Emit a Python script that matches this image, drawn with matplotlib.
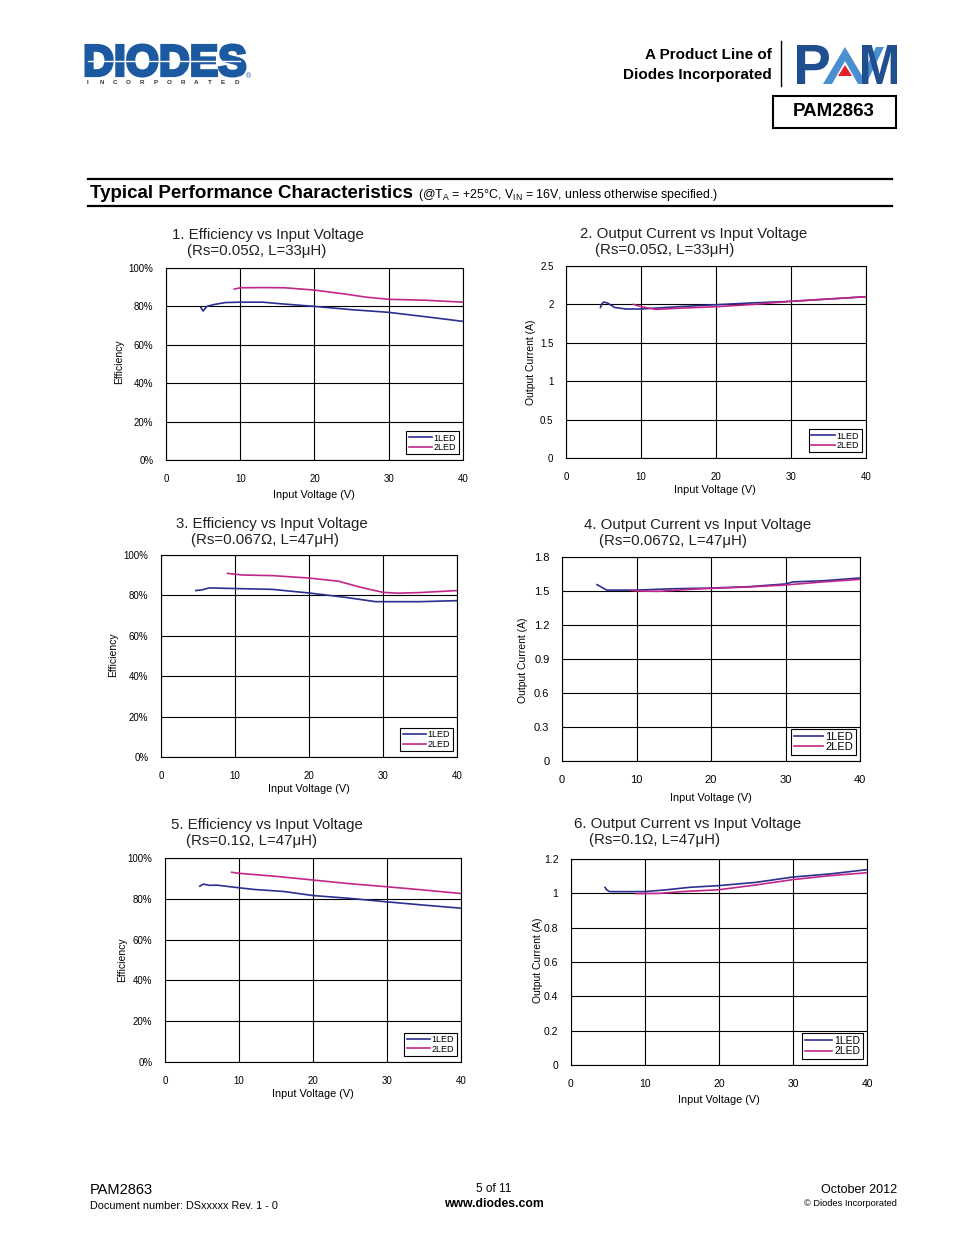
import numpy as np
import matplotlib.pyplot as plt
from matplotlib.textpath import TextPath
from matplotlib.patches import PathPatch, Rectangle, Polygon
from matplotlib.font_manager import FontProperties
from matplotlib.transforms import Affine2D

plt.rcParams['font.family'] = ['Liberation Sans', 'DejaVu Sans']

W, H = 954, 1235
BLUE = '#2b2f8f'
MAG = '#c2268a'

# 1. efficiency, Rs=0.05
v1_1 = [4.7, 5.0, 5.5, 6.5, 8, 10, 13, 16, 20, 25, 30, 35, 40]
e1_1 = [79.4, 77.6, 80.0, 81.0, 82.0, 82.2, 82.2, 81.2, 80.0, 78.3, 76.9, 74.6, 72.2]
v1_2 = [9.2, 10, 13, 16, 20, 24, 27, 30, 35, 40]
e1_2 = [89.0, 89.7, 89.8, 89.7, 88.5, 86.5, 84.8, 83.7, 83.2, 82.2]

# 2. output current, Rs=0.05
v2_1 = [4.6, 4.8, 5.0, 5.5, 6.5, 8, 10, 15, 20, 25, 30, 35, 40]
i2_1 = [1.96, 2.01, 2.03, 2.02, 1.96, 1.94, 1.94, 1.97, 1.996, 2.02, 2.04, 2.07, 2.10]
v2_2 = [9, 10, 12, 15, 20, 25, 30, 35, 40]
i2_2 = [2.0, 1.97, 1.935, 1.95, 1.97, 2.0, 2.04, 2.07, 2.10]

# 3. efficiency, Rs=0.067
v3_1 = [4.7, 5.5, 6.5, 10, 15, 20, 25, 29, 35, 40]
e3_1 = [82.4, 82.7, 83.7, 83.4, 83.0, 81.2, 79.0, 76.9, 76.9, 77.4]
v3_2 = [9, 11, 15, 20, 24, 27, 30, 32, 35, 40]
e3_2 = [90.9, 90.1, 89.8, 88.6, 87.0, 84.0, 81.5, 81.1, 81.4, 82.4]

# 4. output current, Rs=0.067
v4_1 = [4.7, 6, 10, 15, 20, 25, 30, 31, 35, 40]
i4_1 = [1.556, 1.508, 1.508, 1.52, 1.526, 1.538, 1.562, 1.58, 1.59, 1.615]
v4_2 = [9.2, 10, 13, 17, 20, 25, 30, 35, 40]
i4_2 = [1.508, 1.50, 1.497, 1.514, 1.523, 1.535, 1.553, 1.58, 1.603]

# 5. efficiency, Rs=0.1
v5_1 = [4.7, 5.2, 6, 7, 10, 12, 16, 20, 25, 30, 35, 40]
e5_1 = [86.2, 87.2, 86.6, 86.7, 85.4, 84.6, 83.6, 81.6, 80.2, 78.5, 76.9, 75.4]
v5_2 = [9, 10, 15, 20, 25, 30, 35, 40]
e5_2 = [93.0, 92.5, 91.0, 89.2, 87.4, 85.9, 84.3, 82.6]

# 6. output current, Rs=0.1
v6_1 = [4.6, 4.8, 5.2, 10, 13, 16, 20, 25, 30, 35, 40]
i6_1 = [1.035, 1.021, 1.01, 1.01, 1.021, 1.035, 1.045, 1.064, 1.095, 1.113, 1.138]
v6_2 = [8.8, 12, 15, 20, 25, 30, 35, 40]
i6_2 = [0.998, 1.0, 1.01, 1.021, 1.049, 1.08, 1.103, 1.12]

eff_ticks = [0, 20, 40, 60, 80, 100]
eff_labels = ['0%', '20%', '40%', '60%', '80%', '100%']
x_ticks = [0, 10, 20, 30, 40]

fig = plt.figure(figsize=(W / 100, H / 100), dpi=100)
bg = fig.add_axes([0, 0, 1, 1])
bg.set_xlim(0, W)
bg.set_ylim(H, 0)
bg.axis('off')


def txt(x, y, s, **kw):
    bg.text(x, y, s, **kw)


def path_in_box(s, x0, x1, y0, y1, color, weight='bold', stroke=0):
    tp = TextPath((0, 0), s, size=100, prop=FontProperties(family='Liberation Sans', weight=weight))
    ext = tp.get_extents()
    sx = (x1 - x0) / ext.width
    sy = (y1 - y0) / ext.height
    tr = Affine2D().translate(-ext.x0, -ext.y0).scale(sx, -sy).translate(x0, y1)
    bg.add_patch(PathPatch(tr.transform_path(tp), fc=color, ec=color if stroke else 'none', lw=stroke))


# header: DIODES logo
path_in_box('DIODES', 86, 245, 45, 76, '#1b5aa0', stroke=2.2)
bg.plot([88, 240], [61, 61], color='white', lw=1.0)
for k, ch in enumerate('INCORPORATED'):
    txt(88 + k * 13.5, 83, ch, fontsize=4.5, fontweight='bold', color='#333333', ha='center', va='center')
txt(249, 77, '®', fontsize=5, color='#1b5aa0', ha='center', va='center')

# PAM logo
path_in_box('P', 797, 829, 45, 84, '#1f4f8f')
bg.add_patch(Polygon([[823, 84], [845, 47], [867, 84], [858, 84], [845, 61], [832, 84]], fc='#4a8fd0', ec='none'))
bg.add_patch(Polygon([[838, 76], [845, 65], [852, 76]], fc='#e0202a', ec='none'))
bg.add_patch(Polygon([[858, 84], [876, 47], [884, 47], [866, 84]], fc='#4a8fd0', ec='none'))
path_in_box('M', 862, 897, 45, 84, '#1f4f8f')

txt(772, 55, 'A Product Line of', fontsize=11, fontweight='bold', ha='right', va='center')
txt(772, 75, 'Diodes Incorporated', fontsize=11, fontweight='bold', ha='right', va='center')
bg.plot([781, 781], [41, 86], color='black', lw=1)
bg.add_patch(Rectangle((773, 96), 123, 32, fill=False, ec='black', lw=1.5))
txt(834, 112, 'PAM2863', fontsize=13.5, fontweight='bold', ha='center', va='center')

# section heading
bg.plot([88, 892], [179, 179], color='black', lw=1.6)
bg.plot([88, 892], [206, 206], color='black', lw=1.6)
txt(90, 193, 'Typical Performance Characteristics', fontsize=13.5, fontweight='bold', va='center')
txt(418, 195, '(@T$_\\mathregular{A}$ = +25°C, V$_\\mathregular{IN}$ = 16V, unless otherwise specified.)',
    fontsize=8.9, va='center')

# footer
txt(90, 1190, 'PAM2863', fontsize=10.5, va='center')
txt(90, 1206, 'Document number: DSxxxxx Rev. 1 - 0', fontsize=7.8, va='center')
txt(494, 1189, '5 of 11', fontsize=8.5, ha='center', va='center')
txt(494, 1204, 'www.diodes.com', fontsize=8.8, fontweight='bold', ha='center', va='center')
txt(897, 1190, 'October 2012', fontsize=9, ha='right', va='center')
txt(897, 1204, '© Diodes Incorporated', fontsize=6.7, ha='right', va='center')


def panel(box, x1, y1, x2, y2, ylim, yticks, ylabels, ylabel, t1, t2, tpos, ylpos, xlpos,
          tick_fs=7, leg_fs=6.5):
    l, r, t, b = box
    ax = fig.add_axes([l / W, 1 - b / H, (r - l) / W, (b - t) / H])
    ax.plot(x1, y1, color=BLUE, lw=1.2, label='1LED', zorder=3)
    ax.plot(x2, y2, color=MAG, lw=1.2, label='2LED', zorder=3)
    ax.set_xlim(0, 40)
    ax.set_ylim(*ylim)
    ax.set_xticks(x_ticks)
    ax.set_yticks(yticks)
    ax.set_yticklabels(ylabels)
    ax.grid(True, color='black', lw=0.8)
    ax.tick_params(length=0, labelsize=tick_fs)
    ax.tick_params(axis='x', pad=10)
    ax.tick_params(axis='y', pad=9)
    for sp in ax.spines.values():
        sp.set_linewidth(0.8)
    leg = ax.legend(loc='lower right', bbox_to_anchor=(0.985, 0.03), fontsize=leg_fs,
                    frameon=True, fancybox=False, edgecolor='black', framealpha=1,
                    handlelength=2.6, handletextpad=0.2, labelspacing=0.05, borderpad=0.25,
                    borderaxespad=0)
    leg.get_frame().set_linewidth(0.8)
    txt(tpos[0], tpos[1], t1, fontsize=10.8, va='center', color='#222222')
    txt(tpos[0] + 15, tpos[1] + 16, t2, fontsize=10.8, va='center', color='#222222')
    txt(ylpos[0], ylpos[1], ylabel, fontsize=7.5, rotation=90, ha='center', va='center')
    txt(xlpos[0], xlpos[1], 'Input Voltage (V)', fontsize=7.8, ha='center', va='center')
    return ax


panel((166, 463, 268, 460), v1_1, e1_1, v1_2, e1_2, (0, 100), eff_ticks, eff_labels, 'Efficiency',
      '1. Efficiency vs Input Voltage', '(Rs=0.05Ω, L=33μH)', (172, 235), (119, 362), (314, 495))
panel((566, 866, 266, 458), v2_1, i2_1, v2_2, i2_2, (0, 2.5), [0, 0.5, 1, 1.5, 2, 2.5],
      ['0', '0.5', '1', '1.5', '2', '2.5'], 'Output Current (A)',
      '2. Output Current vs Input Voltage', '(Rs=0.05Ω, L=33μH)', (580, 234), (531, 362), (715, 490),
      tick_fs=7)
panel((161, 457, 555, 757), v3_1, e3_1, v3_2, e3_2, (0, 100), eff_ticks, eff_labels, 'Efficiency',
      '3. Efficiency vs Input Voltage', '(Rs=0.067Ω, L=47μH)', (176, 524), (113, 655), (309, 789))
panel((562, 860, 557, 761), v4_1, i4_1, v4_2, i4_2, (0, 1.8), [0, 0.3, 0.6, 0.9, 1.2, 1.5, 1.8],
      ['0', '0.3', '0.6', '0.9', '1.2', '1.5', '1.8'], 'Output Current (A)',
      '4. Output Current vs Input Voltage', '(Rs=0.067Ω, L=47μH)', (584, 525), (523, 660), (711, 798),
      tick_fs=8, leg_fs=8)
panel((165, 461, 858, 1062), v5_1, e5_1, v5_2, e5_2, (0, 100), eff_ticks, eff_labels, 'Efficiency',
      '5. Efficiency vs Input Voltage', '(Rs=0.1Ω, L=47μH)', (171, 825), (122, 960), (313, 1094))
panel((571, 867, 859, 1065), v6_1, i6_1, v6_2, i6_2, (0, 1.2), [0, 0.2, 0.4, 0.6, 0.8, 1, 1.2],
      ['0', '0.2', '0.4', '0.6', '0.8', '1', '1.2'], 'Output Current (A)',
      '6. Output Current vs Input Voltage', '(Rs=0.1Ω, L=47μH)', (574, 824), (538, 960), (719, 1100),
      tick_fs=7.5, leg_fs=7.5)

fig.savefig('out.png', dpi=100)
